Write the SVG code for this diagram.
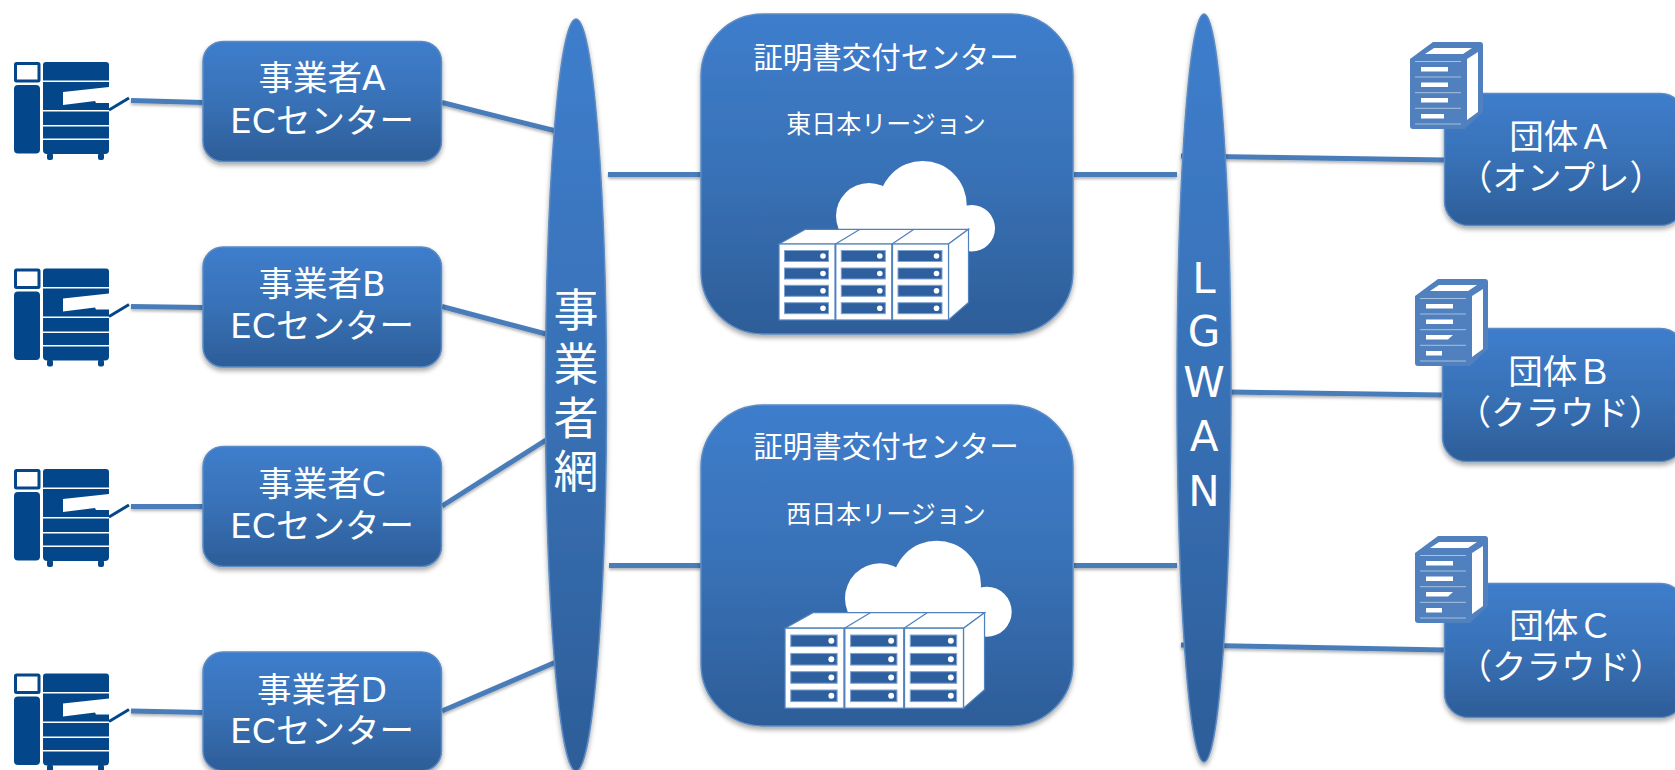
<svg xmlns="http://www.w3.org/2000/svg" xmlns:xlink="http://www.w3.org/1999/xlink" width="1675" height="770" viewBox="0 0 1675 770">
<style>
text{font-family:"DejaVu Sans","Noto Sans CJK JP",sans-serif;fill:#fff;text-anchor:middle}
.n{font-size:34.5px}.o{font-size:34.5px}.t{font-size:29.5px}.s{font-size:25px}.v{font-size:45px}.l{font-size:42px}
.box{fill:url(#g);stroke:#5b8ac2;stroke-width:1.5;filter:url(#sh)}
.c{stroke:#4a7dba;stroke-width:5;fill:none;filter:url(#sl)}
.nv{fill:#03478a}
.sl{fill:#2e5f9f;stroke:#7fa3cf;stroke-width:1}
.rk{fill:#fff;stroke:#4f81bd;stroke-width:1.2}
.sv{fill:#5080bd}
.w{fill:#fff}
.tl{stroke:#cfdcec;stroke-width:.7}
</style>
<defs>
<linearGradient id="g" x1="0" y1="0" x2="0" y2="1"><stop offset="0" stop-color="#3e7dcc"/><stop offset=".5" stop-color="#3871b6"/><stop offset="1" stop-color="#2d5d98"/></linearGradient>
<filter id="sh" x="-10%" y="-10%" width="120%" height="120%"><feDropShadow dx="0" dy="3" stdDeviation="2.5" flood-color="#000" flood-opacity=".35"/></filter>
<filter id="sl" filterUnits="userSpaceOnUse" x="0" y="0" width="1675" height="770"><feDropShadow dx="0" dy="2" stdDeviation="1.5" flood-color="#000" flood-opacity=".3"/></filter>
<g id="copier">
<rect x="15.5" y="63.5" width="23.5" height="17.5" fill="#fff" stroke="#03478a" stroke-width="3" rx="1"/>
<rect class="nv" x="14" y="85" width="26" height="68.500" rx="4"/>
<path class="nv" d="M43 65a3 3 0 0 1 3-3h60a3 3 0 0 1 3 3v85a4 4 0 0 1-4 4H47a4 4 0 0 1-4-4z"/>
<rect class="nv" x="47" y="153" width="6" height="7" rx="2"/><rect class="nv" x="98" y="153" width="6" height="7" rx="2"/>
<path class="w" d="M63 92L109 87V103L96 103L95 101L63 105z"/>
<path fill="#fff" d="M43 80.500h66v1.500H43zM43 110h66v1.500H43zM43 125h66v1.500H43zM43 138.500h66v1.500H43z"/>
<path d="M109 110L129 98" stroke="#03478a" stroke-width="3" fill="none"/>
</g>
<g id="slot">
<rect class="sl" x="784.500" y="0" width="44" height="11"/><circle cx="823" cy="5.500" r="2.800" fill="#fff"/>
</g>
<g id="col">
<rect class="rk" x="779" y="244" width="56" height="76"/>
<use href="#slot" y="250.500"/><use href="#slot" y="268"/><use href="#slot" y="285.300"/><use href="#slot" y="302.700"/>
</g>
<g id="rack">
<path class="rk" d="M779 244L805.500 229.300H968.500L948.500 244z"/>
<path class="rk" d="M948.500 244L968.500 229.300V302.500L948.500 320z"/>
<path d="M835.500 244L860 229.300M892 244L914 229.300" stroke="#4f81bd" stroke-width="1.200" fill="none"/>
<use href="#col"/><use href="#col" x="56.800"/><use href="#col" x="113.500"/>
</g>
<g id="tower">
<path class="sv" d="M1410 59L1433 42H1480a3 3 0 0 1 3 3V112L1465 129H1413a3 3 0 0 1-3-3z"/>
<path class="w" d="M1425 54L1434 48H1472L1463 54zM1467 59L1478 52V112L1467 120z"/>
<path class="tl" d="M1415 61.500H1461M1415 77H1461M1415 92.700H1461M1415 108.300H1461M1415 124H1461"/>
</g>
</defs>
<rect width="1675" height="770" fill="#fff"/>
<g id="connectors">
<path class="c" d="M131 100.500L203 102.500"/>
<path class="c" d="M131 306.500L203 307.500"/>
<path class="c" d="M131 506.500L203 506.500"/>
<path class="c" d="M131 711L203 712.500"/>
<path class="c" d="M442 102.500L556 131"/>
<path class="c" d="M442 306.500L546 334"/>
<path class="c" d="M442 506L546 440"/>
<path class="c" d="M442 711L556 662"/>
<path class="c" d="M608 174.500H701"/>
<path class="c" d="M609 565.500H701"/>
<path class="c" d="M1074 174.500H1177"/>
<path class="c" d="M1074 565.500H1177"/>
<path class="c" d="M1181 156L1444 160"/>
<path class="c" d="M1229 392L1442 395"/>
<path class="c" d="M1181 645L1444 650"/>
</g>
<g id="copier-a"><use href="#copier"/></g>
<g id="copier-b"><use href="#copier" y="206.500"/></g>
<g id="copier-c"><use href="#copier" y="407"/></g>
<g id="copier-d"><use href="#copier" y="611.500"/></g>
<g id="op-a"><rect class="box" x="203" y="41.500" width="238.500" height="120" rx="20"/><text class="n" x="322" y="90">事業者A</text><text class="n" x="322" y="133">ECセンター</text></g>
<g id="op-b"><rect class="box" x="203" y="247" width="238.500" height="120" rx="20"/><text class="n" x="322" y="295.500">事業者B</text><text class="n" x="322" y="338">ECセンター</text></g>
<g id="op-c"><rect class="box" x="203" y="446.500" width="238.500" height="120" rx="20"/><text class="n" x="322" y="495.500">事業者C</text><text class="n" x="322" y="538">ECセンター</text></g>
<g id="op-d"><rect class="box" x="203" y="652" width="238.500" height="119" rx="20"/><text class="n" x="322" y="702">事業者D</text><text class="n" x="322" y="743">ECセンター</text></g>
<g id="net"><ellipse class="box" cx="576" cy="395" rx="30.500" ry="376"/>
<text class="v" x="576" y="327">事</text><text class="v" x="576" y="381">業</text><text class="v" x="576" y="435">者</text><text class="v" x="576" y="488">網</text></g>
<g id="east"><rect class="box" x="701" y="14" width="372" height="320" rx="62"/>
<text class="t" x="886" y="68">証明書交付センター</text><text class="s" x="886" y="132.500">東日本リージョン</text>
<g class="w"><circle cx="922.700" cy="205" r="44"/><circle cx="869" cy="216" r="33"/><circle cx="971.700" cy="228.300" r="23.300"/><rect x="869" y="215" width="102" height="36"/></g>
<use href="#rack"/></g>
<g id="west"><rect class="box" x="701" y="405" width="372" height="321" rx="62"/>
<text class="t" x="886" y="457">証明書交付センター</text><text class="s" x="886" y="522.500">西日本リージョン</text>
<g class="w"><circle cx="936.700" cy="585" r="44.300"/><circle cx="880" cy="598.300" r="35"/><circle cx="986.700" cy="611.700" r="25"/><rect x="880" y="600" width="106" height="36"/></g>
<use href="#rack" transform="translate(785 612.700) scale(1.053 1.053) translate(-779 -229.300)"/></g>
<g id="lgan"><ellipse class="box" cx="1204" cy="388" rx="27" ry="374"/>
<text class="l" x="1204" y="293">L</text><text class="l" x="1204" y="346">G</text><text class="l" x="1204" y="397">W</text><text class="l" x="1204" y="451">A</text><text class="l" x="1204" y="506">N</text></g>
<g id="org-a"><rect class="box" x="1444.500" y="93.500" width="240" height="132" rx="24"/>
<use href="#tower"/><path class="w" d="M1421 67h27v4.500h-27zM1421 82.500h27v4.500h-27zM1421 98h27v4.500h-27zM1421 114h23v4.500h-23z"/>
<text class="o" x="1561" y="149">団体Ａ</text><text class="o" x="1561" y="190">（オンプレ）</text></g>
<g id="org-b"><rect class="box" x="1442.500" y="328.500" width="242" height="133" rx="24"/>
<use href="#tower" x="5" y="237"/><path class="w" d="M1426 304h27v4.500h-27zM1426 319.500h27v4.500h-27zM1426 335h27l-5 4.500h-22zM1426 351h16v4.500h-16z"/>
<text class="o" x="1560" y="384">団体Ｂ</text><text class="o" x="1560" y="425">（クラウド）</text></g>
<g id="org-c"><rect class="box" x="1444.500" y="583.500" width="240" height="134" rx="24"/>
<use href="#tower" x="5" y="494"/><path class="w" d="M1426 561h27v4.500h-27zM1426 576.500h27v4.500h-27zM1426 592h27l-5 4.500h-22zM1426 608h16v4.500h-16z"/>
<text class="o" x="1561" y="638">団体Ｃ</text><text class="o" x="1561" y="679">（クラウド）</text></g>
</svg>
